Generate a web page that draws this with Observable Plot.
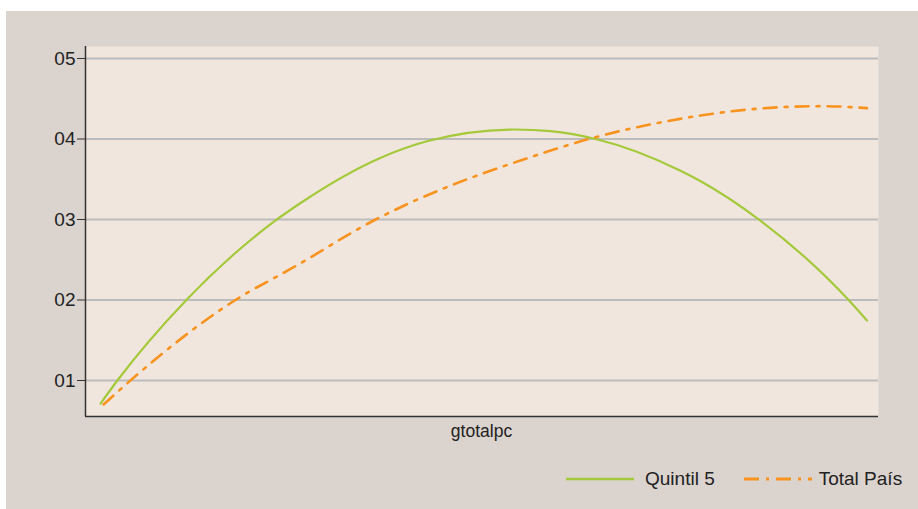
<!DOCTYPE html>
<html>
<head>
<meta charset="utf-8">
<script src="https://cdn.jsdelivr.net/npm/d3@7"></script>
<script src="https://cdn.jsdelivr.net/npm/@observablehq/plot@0.6"></script>
<style>
  html, body { margin: 0; padding: 0; background: #ffffff; }
  body { width: 918px; height: 509px; position: relative; overflow: hidden;
         font-family: "Liberation Sans", Arial, sans-serif; }
  #panel { position: absolute; left: 6px; top: 11px; width: 912px; height: 498px; background: #dbd3ce; }
  #chart { position: absolute; left: 0; top: 0; }
  #xlabel { position: absolute; left: 375px; width: 201px; text-align: center; top: 410px;
            font-size: 17.5px; color: #222; }
  #legend { position: absolute; top: 457px; left: 560px; font-size: 19px; color: #222; display: flex; align-items: center; }
  #legend .item { display: flex; align-items: center; }
  #legend svg { display: block; }
</style>
</head>
<body>
<div id="panel">
  <div id="chart"></div>
  <div id="xlabel">gtotalpc</div>
  <div id="legend"></div>
</div>
<script>
// Series names
const seriesNames = ["Quintil 5", "Total País"];
const seriesColors = ["#a4c93a", "#f7931e"];

// x positions (arbitrary gtotalpc units, 0 = first point, 100 = last point)
const xQuintil5 = [0, 2.2, 11.2, 22.8, 26.1, 36.5, 42.7, 54.1, 58.7, 64.6, 75.6, 78.3, 85.9, 97.6, 100];
const yQuintil5 = [0.0714, 0.1, 0.2, 0.2985, 0.3205, 0.3765, 0.3975, 0.4118, 0.4097, 0.4, 0.3609, 0.3476, 0.3, 0.2, 0.1745];

const xTotal = [0.4, 3.9, 17.6, 25.2, 35.9, 52.2, 54.8, 63.7, 75.6, 78.3, 88.7, 94.3, 100];
const yTotal = [0.0702, 0.1, 0.2, 0.2407, 0.3, 0.365, 0.3733, 0.4, 0.425, 0.4292, 0.4395, 0.4408, 0.4383];

// y tick values and labels
const yTicks = [0.1, 0.2, 0.3, 0.4, 0.5];
const yTickLabels = ["01", "02", "03", "04", "05"];

const xDomain = [-1.96, 101.5];
const yDomain = [0.0553, 0.5149];

const q5 = xQuintil5.map((x, i) => ({x, y: yQuintil5[i]}));
const tot = xTotal.map((x, i) => ({x, y: yTotal[i]}));

const chart = Plot.plot({
  width: 912,
  height: 440,
  marginLeft: 79,
  marginRight: 40,
  marginTop: 35,
  marginBottom: 35,
  style: {background: "transparent", fontFamily: "'Liberation Sans', Arial, sans-serif"},
  x: {domain: xDomain, axis: null},
  y: {domain: yDomain, axis: null},
  marks: [
    Plot.frame({fill: "#f1e6dd", stroke: null}),
    Plot.gridY(yTicks, {stroke: "#bcbcbc", strokeWidth: 2, strokeOpacity: 1}),
    Plot.axisY(yTicks, {
      tickFormat: (d) => yTickLabels[yTicks.indexOf(d)],
      tickSize: 8, tickPadding: 2, fontSize: 19, stroke: "#333", color: "#222", label: null
    }),
    Plot.line(q5, {x: "x", y: "y", stroke: seriesColors[0], strokeWidth: 2.2, curve: "monotone-x"}),
    Plot.line(tot, {x: "x", y: "y", stroke: seriesColors[1], strokeWidth: 2.6, curve: "monotone-x",
                    strokeDasharray: "13,8,3,8"}),
    Plot.ruleX([xDomain[0]], {stroke: "#333", strokeWidth: 1.5}),
    Plot.ruleY([yDomain[0]], {stroke: "#333", strokeWidth: 1.5})
  ]
});
document.getElementById("chart").appendChild(chart);

// Legend
const legend = document.getElementById("legend");
const dashes = [null, "15,7,3,7"];
seriesNames.forEach((name, i) => {
  const item = document.createElement("div");
  item.className = "item";
  item.style.marginRight = i === 0 ? "29px" : "0";
  const svg = d3.create("svg").attr("width", 75).attr("height", 20);
  svg.append("line").attr("x1", 0).attr("x2", 68).attr("y1", 10).attr("y2", 10)
    .attr("stroke", seriesColors[i]).attr("stroke-width", i === 0 ? 2.5 : 3)
    .attr("stroke-dasharray", dashes[i]);
  item.appendChild(svg.node());
  const span = document.createElement("span");
  span.textContent = name;
  span.style.marginLeft = i === 0 ? "4px" : "0px";
  item.appendChild(span);
  legend.appendChild(item);
});
</script>
</body>
</html>
